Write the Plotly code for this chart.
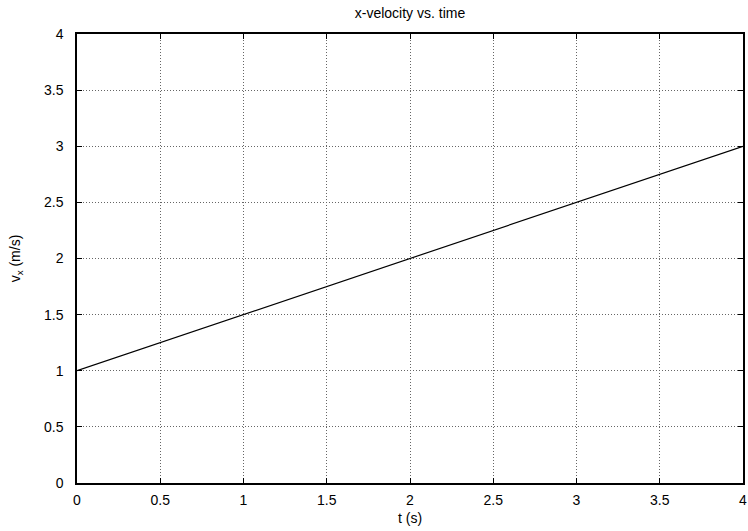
import plotly.graph_objects as go

t = [0, 1, 2, 3, 4]
vx = [1.0, 1.5, 2.0, 2.5, 3.0]

x_ticks = [0, 0.5, 1, 1.5, 2, 2.5, 3, 3.5, 4]
y_ticks = [0, 0.5, 1, 1.5, 2, 2.5, 3, 3.5, 4]

FONT = "Liberation Sans, Arial, Helvetica"

fig = go.Figure()
fig.add_trace(go.Scatter(x=t, y=vx, mode="lines", cliponaxis=False,
                         line=dict(color="black", width=1.2), showlegend=False))

axis_common = dict(
    showline=True, linecolor="black", linewidth=1.5, mirror="allticks",
    ticks="inside", ticklen=5, tickcolor="black", tickwidth=1,
    showgrid=True, gridcolor="#666666", griddash="1px,2px", gridwidth=1,
    zeroline=False, automargin=False,
    tickfont=dict(family=FONT, size=14, color="black"),
)

fig.update_xaxes(range=[0, 4], tickvals=x_ticks, ticktext=[f"{v:g}" for v in x_ticks],
                 ticklabelstandoff=3,
                 title=dict(text="t (s)", font=dict(size=14), standoff=7), **axis_common)
fig.update_yaxes(range=[0, 4], tickvals=y_ticks, ticktext=[f"{v:g}" for v in y_ticks],
                 ticklabelstandoff=9,
                 title=dict(text="v<sub>x</sub> (m/s)", font=dict(size=14), standoff=20), **axis_common)

fig.update_layout(
    width=748, height=531,
    margin=dict(l=77, r=5, t=34, b=48),
    plot_bgcolor="white", paper_bgcolor="white",
    font=dict(family=FONT, size=14, color="black"),
    title=dict(text="x-velocity vs. time", xref="paper", x=0.5, xanchor="center",
               y=0.975, yanchor="middle", font=dict(size=14)),
)

fig.write_html("out.html", config={"displayModeBar": False},
               post_script="document.body.style.margin='0px';document.body.style.overflow='hidden';")
